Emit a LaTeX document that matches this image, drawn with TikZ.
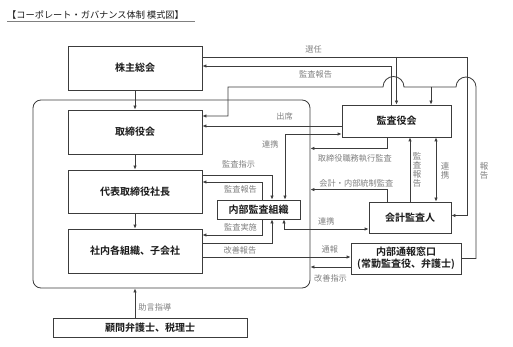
\documentclass[tikz,border=0pt]{standalone}
\usepackage{fontspec}
\setmainfont{Noto Sans CJK JP}[BoldFont={Noto Sans CJK JP Bold}]
\usetikzlibrary{arrows.meta,calc}
\definecolor{Wire}{HTML}{3C3C3C}
\definecolor{Note}{HTML}{808080}
\definecolor{Ink}{HTML}{1A1A1A}

\begin{document}
\begin{tikzpicture}[x=1pt,y=-1pt, box/.style={draw=Wire,line width=0.8pt,fill=white,text=Ink,font=\bfseries\fontsize{10}{12}\selectfont,inner sep=0pt,align=center}, lbl/.style={text=Note,font=\fontsize{8.2}{9}\selectfont,inner sep=0pt}, vlbl/.style={lbl,align=center,font=\fontsize{8.5}{9}\selectfont}, wire/.style={draw=Wire,line width=0.8pt}, arrow/.style={wire,-{Latex[length=4pt,width=3.5pt]}}, both/.style={wire,{Latex[length=4pt,width=3.5pt]}-{Latex[length=4pt,width=3.5pt]}}]
\useasboundingbox (0,0) rectangle (513,347);
\node[anchor=west,text=Ink,font=\fontsize{9.2}{11}\selectfont,inner sep=0pt] (title) at (7,15) {【コーポレート・ガバナンス体制\ 模式図】};
\draw[Note,line width=0.6pt] (7,21) -- (195,21);
\node[draw=Wire,line width=0.8pt,rounded corners=8pt,minimum width=277,minimum height=188] (org) at (171.5,194) {};
\node[box,minimum width=134,minimum height=44] (kabu) at (135,68) {株主総会};\node[box,minimum width=134,minimum height=44] (tori) at (135,132) {取締役会};
\node[box,minimum width=134,minimum height=43] (daihyo) at (135,191.5) {代表取締役社長};\node[box,minimum width=134,minimum height=44] (shanai) at (135,251) {社内各組織、子会社};
\node[box,minimum width=194,minimum height=19] (komon) at (150,327.5) {顧問弁護士、税理士};
\node[box,minimum width=109,minimum height=32] (kansayaku) at (396.5,121) {監査役会};
\node[box,minimum width=83,minimum height=19] (naibu) at (258.5,209.5) {内部監査組織};
\node[box,minimum width=82,minimum height=31] (kaikei) at (410,217.5) {会計監査人};
\node[box,minimum width=110,minimum height=31] (tsuho) at (406,258.5) {内部通報窓口\\(常勤監査役、弁護士)};
% main line
\draw[arrow] (kabu.south) -- (tori.north);\draw[arrow] (tori.south) -- (daihyo.north);\draw[arrow] (daihyo.south) -- (shanai.north);
\draw[arrow] (komon.north -| shanai.south) -- (org.south -| shanai.south) node[lbl,pos=0.35,anchor=west,xshift=3pt] {助言指導};
% shareholders
\coordinate (selR) at (467,57);
\draw[arrow] ([yshift=11pt]kabu.east) -- node[lbl,pos=0.42,above=3pt] {選任} (selR) |- ([yshift=2pt]kaikei.east);
\draw[arrow] (kansayaku.north |- selR) -- (kansayaku.north);
\draw[arrow] ([xshift=-5.5pt]kansayaku.north) |- ([yshift=2pt]kabu.east) node[lbl,pos=0.7,below=4pt] {監査報告};
% whistle report
\coordinate (repR) at (476,87);\coordinate (brA) at (431,87);
\draw[arrow] (tsuho.east) -| (repR) arc[start angle=0,end angle=-180,radius=10] -- (404,87) arc[start angle=0,end angle=-180,radius=10.5] -- (228,87) |- ([yshift=16pt]tori.east);
\draw[arrow] (brA) -- (brA |- kansayaku.north);
\node[vlbl] (repL) at (484,171) {報\\告};
% audit board
\coordinate (att) at ([yshift=-5pt]kansayaku.west);
\draw[arrow] (att) -- (att -| tori.east) node[lbl,pos=0.41,above=5pt] {出席};
\coordinate (exe) at ([xshift=-9.5pt,yshift=-11pt]kansayaku.south);
\draw[arrow] (exe |- kansayaku.south) -- (exe) -- (exe -| org.east) node[lbl,pos=0.42,below=6pt] {取締役職務執行監査};
\draw[arrow] (kaikei.north) -- (kaikei.north |- kansayaku.south);
\node[vlbl] (audL) at (417,170) {監\\査\\報\\告};
\coordinate (lk) at ([xshift=26pt]kaikei.north);
\draw[both] (lk) -- (lk |- kansayaku.south);
\node[vlbl] (lkL) at (445,171) {連\\携};
\coordinate (aud) at ([xshift=-23pt,yshift=12pt]kaikei.north);
\draw[arrow] (aud |- kaikei.north) -- (aud) -- (aud -| org.east) node[lbl,pos=0.4,above=2pt] {会計・内部統制監査};
% internal audit
\coordinate (lnkA) at ([xshift=26.5pt]naibu.north);\coordinate (lnkB) at ([xshift=25.5pt]naibu.south);
\draw[both] (lnkA) |- ([yshift=-13pt]kansayaku.west) node[lbl,pos=0.42,left=6pt] {連携};
\draw[both] (lnkB) |- ([yshift=-11.5pt]kaikei.west) node[lbl,pos=0.75,above=3pt] {連携};
\draw[arrow] ([yshift=16.5pt]daihyo.east) -| ([xshift=13.5pt]naibu.north) node[lbl,pos=0.26,above=6pt] {監査指示};
\draw[arrow] ([xshift=3.5pt]naibu.north) |- ([yshift=9.5pt]daihyo.east) node[lbl,pos=0.68,below=3pt] {監査報告};
\draw[arrow] ([xshift=3.5pt]naibu.south) |- ([yshift=16pt]shanai.east) node[lbl,pos=0.68,above=3pt] {監査実施};
\draw[arrow] ([yshift=8pt]shanai.east) -| ([xshift=13.5pt]naibu.south) node[lbl,pos=0.27,below=3pt] {改善報告};
% whistleblowing
\coordinate (rep1) at ([yshift=-6pt]shanai.east);\coordinate (imp) at ([yshift=-8.5pt]tsuho.west);
\draw[arrow] (rep1) -- (rep1 -| tsuho.west) node[lbl,pos=0.86,above=3pt] {通報};
\draw[arrow] (imp) -- (imp -| org.east) node[lbl,pos=0.5,below=7pt] {改善指示};
\end{tikzpicture}
\end{document}
